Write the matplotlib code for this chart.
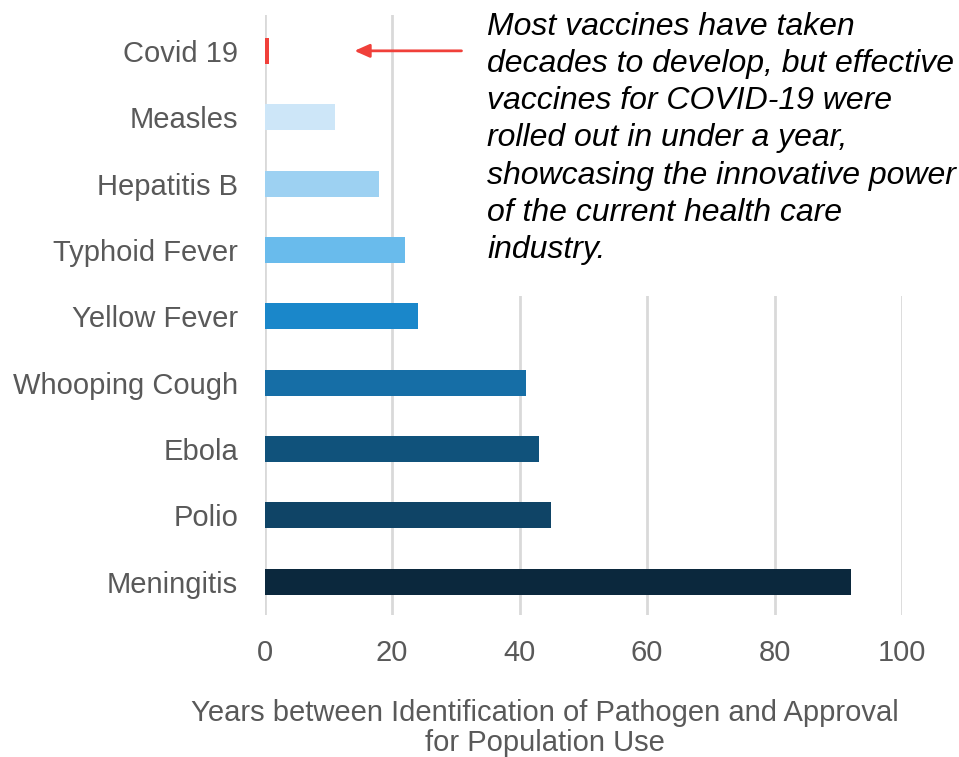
import matplotlib
matplotlib.use("Agg")
import matplotlib.pyplot as plt
from matplotlib.patches import Rectangle

diseases = ["Covid 19", "Measles", "Hepatitis B", "Typhoid Fever", "Yellow Fever",
            "Whooping Cough", "Ebola", "Polio", "Meningitis"]
years = [0.7, 11, 18, 22, 24, 41, 43, 45, 92]
colors = ["#F0403A", "#CDE6F8", "#9DD1F2", "#69BBEC", "#1A87CA",
          "#166EA6", "#10527B", "#0F4466", "#0B283D"]
xticks = [0, 20, 40, 60, 80, 100]
note = ("Most vaccines have taken\n"
        "decades to develop, but effective\n"
        "vaccines for COVID-19 were\n"
        "rolled out in under a year,\n"
        "showcasing the innovative power\n"
        "of the current health care\n"
        "industry.")
xlabel = "Years between Identification of Pathogen and Approval\nfor Population Use"

plt.rcParams['font.family'] = ['Liberation Sans', 'DejaVu Sans']

fig = plt.figure(figsize=(9.59, 7.57), dpi=100)
ax = fig.add_axes([264.5/959, 1-615/757, (902-264.5)/959, 600/757])

ypos = list(range(len(diseases)))
ax.barh(ypos, years, height=0.39, color=colors, zorder=3)
ax.set_yticks(ypos)
ax.set_yticklabels(diseases)
ax.set_xlim(0, 100)
ax.set_ylim(8.5, -0.54)
ax.set_xticks(xticks)
ax.grid(axis='x', color='#D9D9D9', linewidth=2, zorder=0)
ax.grid(axis='y', visible=False)
for s in ax.spines.values():
    s.set_visible(False)
ax.tick_params(axis='both', length=0, labelsize=21, labelcolor='#595959')
ax.tick_params(axis='y', pad=19)
ax.tick_params(axis='x', pad=17)

# white box behind the note
fig.patches.append(Rectangle((478/959, 1-296/757), 481/959, 296/757,
                             transform=fig.transFigure, facecolor='white',
                             edgecolor='none', zorder=1))
fig.text(487/959, 1-12/757, note, ha='left', va='top', fontsize=23,
         style='italic', color='black', linespacing=1.31, zorder=2)

ax.annotate("", xy=(14.1, 0), xytext=(30.9, 0),
            arrowprops=dict(arrowstyle='-|>,head_length=0.9,head_width=0.4',
                            color='#F0403A', lw=2, shrinkA=0, shrinkB=0),
            zorder=4)

fig.text(545/959, 1-728/757, xlabel, ha='center', va='center', fontsize=21,
         color='#595959', linespacing=1.12)

fig.savefig("out.png", dpi=100)
